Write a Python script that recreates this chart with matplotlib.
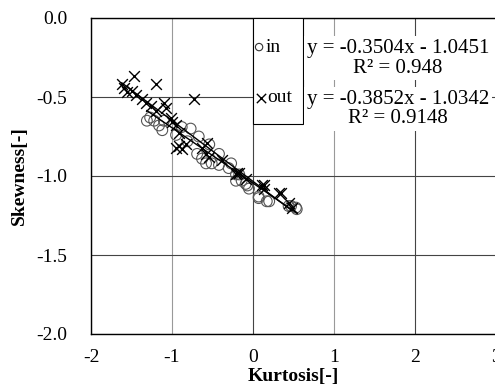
import numpy as np
import matplotlib
matplotlib.use("Agg")
import matplotlib.pyplot as plt
from matplotlib.patches import Rectangle

plt.rcParams['font.family'] = ['Liberation Serif', 'DejaVu Serif']
plt.rcParams['axes.unicode_minus'] = False

# inflow points (kurtosis, skewness)
in_kurt = [-1.31, -1.27, -1.22, -1.16, -1.10, -1.12, -0.95, -0.88, -0.77, -0.81,
           -0.69, -0.67, -0.63, -0.58, -0.54, -0.51, -0.42, -0.42, -0.30, -0.27,
           -0.21, -0.21, -0.17, -0.14, -0.09, -0.07, -0.05, 0.07, 0.07, 0.17,
           0.20, 0.44, 0.47, 0.53, 0.54]
in_skew = [-0.65, -0.63, -0.65, -0.68, -0.65, -0.71, -0.74, -0.69, -0.70, -0.78,
           -0.86, -0.75, -0.89, -0.92, -0.80, -0.92, -0.93, -0.86, -0.95, -0.92,
           -0.99, -1.03, -0.99, -1.03, -1.05, -1.06, -1.08, -1.14, -1.13, -1.16,
           -1.16, -1.19, -1.19, -1.20, -1.21]

# outflow points
out_kurt = [-1.62, -1.59, -1.56, -1.49, -1.47, -1.44, -1.37, -1.32, -1.26, -1.20,
            -1.20, -1.10, -1.07, -1.01, -1.00, -0.95, -0.91, -0.95, -0.91, -0.88,
            -0.83, -0.73, -0.63, -0.58, -0.57, -0.54, -0.38, -0.21, -0.20, -0.17,
            -0.09, 0.11, 0.14, 0.14, 0.32, 0.35, 0.44, 0.48]
out_skew = [-0.42, -0.44, -0.47, -0.46, -0.37, -0.49, -0.51, -0.54, -0.56, -0.42,
            -0.59, -0.54, -0.57, -0.63, -0.66, -0.68, -0.73, -0.82, -0.81, -0.83,
            -0.80, -0.51, -0.82, -0.86, -0.79, -0.88, -0.90, -0.99, -0.98, -0.98,
            -1.02, -1.06, -1.08, -1.06, -1.11, -1.11, -1.17, -1.20]

in_fit = (-0.3504, -1.0451, 0.948)
out_fit = (-0.3852, -1.0342, 0.9148)

fig = plt.figure(figsize=(4.95, 3.86), dpi=100)
ax = fig.add_axes([91/495, 52/386, 405/495, 316/386])

ax.scatter(in_kurt, in_skew, s=60, facecolors='none', edgecolors='#555555',
           linewidths=0.8, marker='o', zorder=3)
ax.scatter(out_kurt, out_skew, s=60, c='black', linewidths=1.0,
           marker='x', zorder=3)

xi = np.array([min(in_kurt), max(in_kurt)])
ax.plot(xi, in_fit[0]*xi + in_fit[1], color='black', lw=1.0, zorder=4)
xo = np.array([min(out_kurt), max(out_kurt)])
ax.plot(xo, out_fit[0]*xo + out_fit[1], color='black', lw=1.0, zorder=4)

ax.set_xlim(-2, 3)
ax.set_ylim(-2, 0)
ax.set_xticks([-2, -1, 0, 1, 2, 3])
ax.set_yticks([-2, -1.5, -1, -0.5, 0])
ax.set_yticklabels(['-2.0', '-1.5', '-1.0', '-0.5', '0.0'])
ax.tick_params(length=0, labelsize=14)
ax.tick_params(axis='y', pad=17)
ax.tick_params(axis='x', pad=11)
ax.grid(True, color='#444444', lw=0.8)
ax.set_axisbelow(True)
# the -1 and 1 verticals look lighter in the original
for i in (1, 3):
    ax.get_xgridlines()[i].set_color('#999999')
for s in ax.spines.values():
    s.set_linewidth(1.0)

ax.set_xlabel('Kurtosis[-]', fontsize=14, fontweight='bold', labelpad=1)
ax.set_ylabel('Skewness[-]', fontsize=14, fontweight='bold', labelpad=6)

# hand-made legend box
ax.add_patch(Rectangle((0.4, 0.665), 0.123, 0.335, transform=ax.transAxes,
                       facecolor='white', edgecolor='black', lw=0.8, zorder=5))
ax.scatter([0.415], [0.908], s=28, facecolors='none', edgecolors='#333333',
           linewidths=0.8, marker='o', transform=ax.transAxes, zorder=6)
ax.scatter([0.419], [0.747], s=45, c='black', linewidths=1.0, marker='x',
           transform=ax.transAxes, zorder=6)
ax.text(0.430, 0.908, 'in', fontsize=14, va='center', transform=ax.transAxes, zorder=6)
ax.text(0.434, 0.747, 'out', fontsize=14, va='center', transform=ax.transAxes, zorder=6)

box = dict(facecolor='white', edgecolor='none', pad=2)
ax.text(1.79, -0.255, 'y = %.4fx - %.4f\nR² = %s' % (in_fit[0], -in_fit[1], in_fit[2]),
        ha='center', va='center', fontsize=15, linespacing=1.05, bbox=box, zorder=5)
ax.text(1.79, -0.575, 'y = %.4fx - %.4f\nR² = %s' % (out_fit[0], -out_fit[1], out_fit[2]),
        ha='center', va='center', fontsize=15, linespacing=1.0, bbox=box, zorder=5)

fig.savefig('out.png', dpi=100)
